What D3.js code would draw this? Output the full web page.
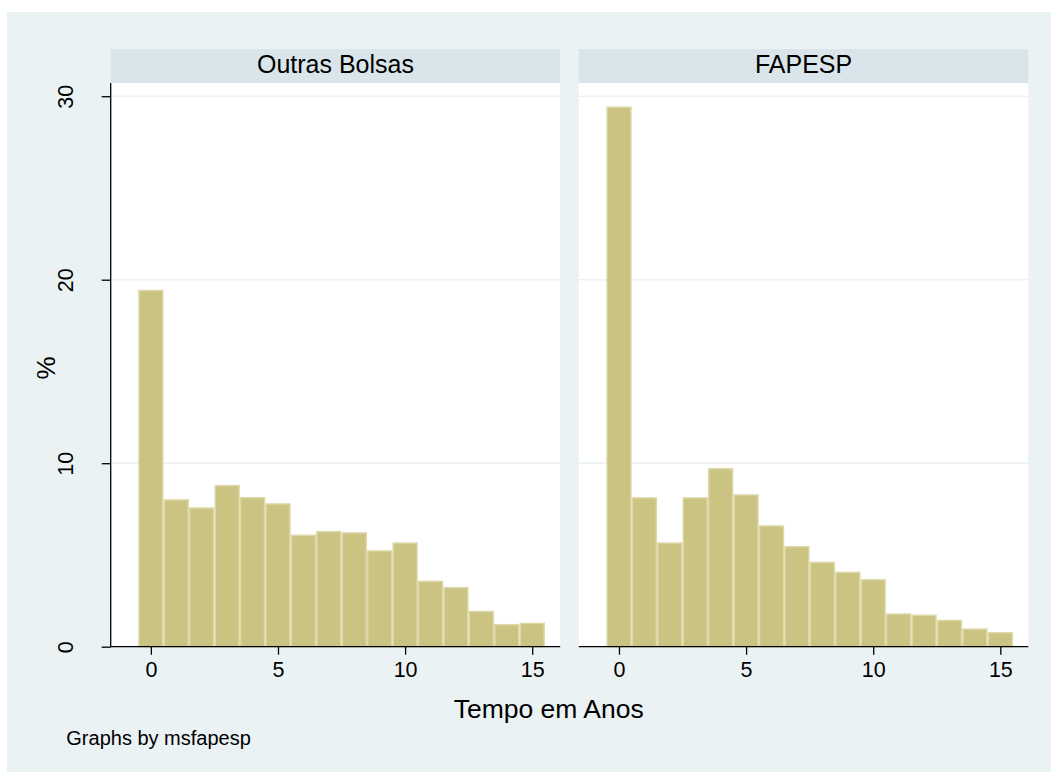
<!DOCTYPE html>
<html>
<head>
<meta charset="utf-8">
<script src="https://cdn.jsdelivr.net/npm/d3@7"></script>
<style>
  html, body { margin: 0; padding: 0; background: #eaf2f3; overflow: hidden; }
  svg { display: block; font-family: "Liberation Sans", Arial, Helvetica, sans-serif; }
</style>
</head>
<body>
<svg id="chart" width="1051" height="772"></svg>
<script>
// ---- data ----
const panels = ["Outras Bolsas", "FAPESP"];
const years = [0, 1, 2, 3, 4, 5, 6, 7, 8, 9, 10, 11, 12, 13, 14, 15];
const outrasBolsas = [19.45, 8.04, 7.60, 8.82, 8.16, 7.82, 6.11, 6.31, 6.24, 5.26, 5.69, 3.60, 3.26, 1.96, 1.24, 1.31];
const fapesp = [29.44, 8.15, 5.69, 8.15, 9.74, 8.31, 6.62, 5.49, 4.63, 4.09, 3.69, 1.82, 1.75, 1.47, 1.00, 0.80];
const yTicks = [0, 10, 20, 30];
const xTicks = [0, 5, 10, 15];
const xTitle = "Tempo em Anos";
const yTitle = "%";
const note = "Graphs by msfapesp";

const seriesList = [outrasBolsas, fapesp];

// ---- layout ----
const svg = d3.select("#chart");
const W = 1051, H = 772;
const bg = "#eaf2f3";
svg.append("rect").attr("x", 0).attr("y", 0).attr("width", W).attr("height", H).attr("fill", "#ffffff");
svg.append("rect").attr("x", 7).attr("y", 12).attr("width", W - 7).attr("height", H - 12).attr("fill", bg);

const panelLeft = [110.7, 578.8];
const panelW = 449.5;
const plotTop = 83;
const plotBottom = 646.7;
const headerTop = 49;

const y = d3.scaleLinear().domain([0, 30.72]).range([plotBottom, plotTop]);

panels.forEach((name, i) => {
  const x0 = panelLeft[i];
  const x = d3.scaleLinear().domain([-1.58, 16.1]).range([x0, x0 + panelW]);
  const g = svg.append("g");

  // header strip
  g.append("rect").attr("x", x0).attr("y", headerTop).attr("width", panelW).attr("height", plotTop - headerTop)
    .attr("fill", "#d9e5ea");
  g.append("text").attr("x", x0 + panelW / 2).attr("y", 72.5).attr("text-anchor", "middle")
    .attr("font-size", 25).attr("fill", "#000").text(name);

  // plot region
  g.append("rect").attr("x", x0).attr("y", plotTop).attr("width", panelW).attr("height", plotBottom - plotTop)
    .attr("fill", "#ffffff");

  // gridlines
  g.selectAll("line.grid").data(yTicks.filter(d => d > 0)).enter().append("line")
    .attr("x1", x0).attr("x2", x0 + panelW)
    .attr("y1", d => y(d)).attr("y2", d => y(d))
    .attr("stroke", bg).attr("stroke-width", 1.6);

  // bars
  const vals = seriesList[i];
  g.selectAll("rect.bar").data(years).enter().append("rect")
    .attr("x", d => x(d - 0.5) + 0.75)
    .attr("width", d => x(d + 0.5) - x(d - 0.5) - 1.5)
    .attr("y", (d, j) => y(vals[j]) + 0.75)
    .attr("height", (d, j) => y(0) - y(vals[j]) - 0.75)
    .attr("fill", "#cac381")
    .attr("stroke", "#ded8a8")
    .attr("stroke-width", 1.5);

  // x axis
  const xAxis = d3.axisBottom(x).tickValues(xTicks).tickSize(8).tickPadding(7).tickFormat(d3.format("d"));
  const ax = g.append("g").attr("transform", `translate(0,${plotBottom})`).call(xAxis);
  ax.select(".domain").remove();
  ax.append("line").attr("x1", x0).attr("x2", x0 + panelW).attr("y1", 0).attr("y2", 0)
    .attr("stroke", "#000").attr("stroke-width", 1.3);
  ax.selectAll(".tick line").attr("stroke", "#000").attr("stroke-width", 1.3);
  ax.selectAll(".tick text").attr("font-size", 21.5).attr("fill", "#000")
    .attr("font-family", "'Liberation Sans', Arial, sans-serif");

  if (i === 0) {
    const yAxis = d3.axisLeft(y).tickValues(yTicks).tickSize(9).tickFormat(d3.format("d"));
    const ay = g.append("g").attr("transform", `translate(${x0},0)`).call(yAxis);
    ay.select(".domain").remove();
    ay.append("line").attr("x1", 0).attr("x2", 0).attr("y1", plotTop).attr("y2", plotBottom)
      .attr("stroke", "#000").attr("stroke-width", 1.3);
    ay.selectAll(".tick line").attr("stroke", "#000").attr("stroke-width", 1.3);
    ay.selectAll(".tick text")
      .attr("font-size", 21.5).attr("fill", "#000")
      .attr("font-family", "'Liberation Sans', Arial, sans-serif")
      .attr("x", null).attr("dy", null)
      .attr("text-anchor", "middle")
      .attr("transform", "translate(-37.5,0) rotate(-90)");
  }
});

// axis titles
svg.append("text").attr("x", 548.7).attr("y", 717.5).attr("text-anchor", "middle")
  .attr("font-size", 26.5).attr("fill", "#000").text(xTitle);
svg.append("text").attr("transform", "translate(55,368) rotate(-90)").attr("text-anchor", "middle")
  .attr("font-size", 26).attr("fill", "#000").text(yTitle);

// note
svg.append("text").attr("x", 66.3).attr("y", 744.5).attr("font-size", 20).attr("fill", "#000").text(note);
</script>
</body>
</html>
